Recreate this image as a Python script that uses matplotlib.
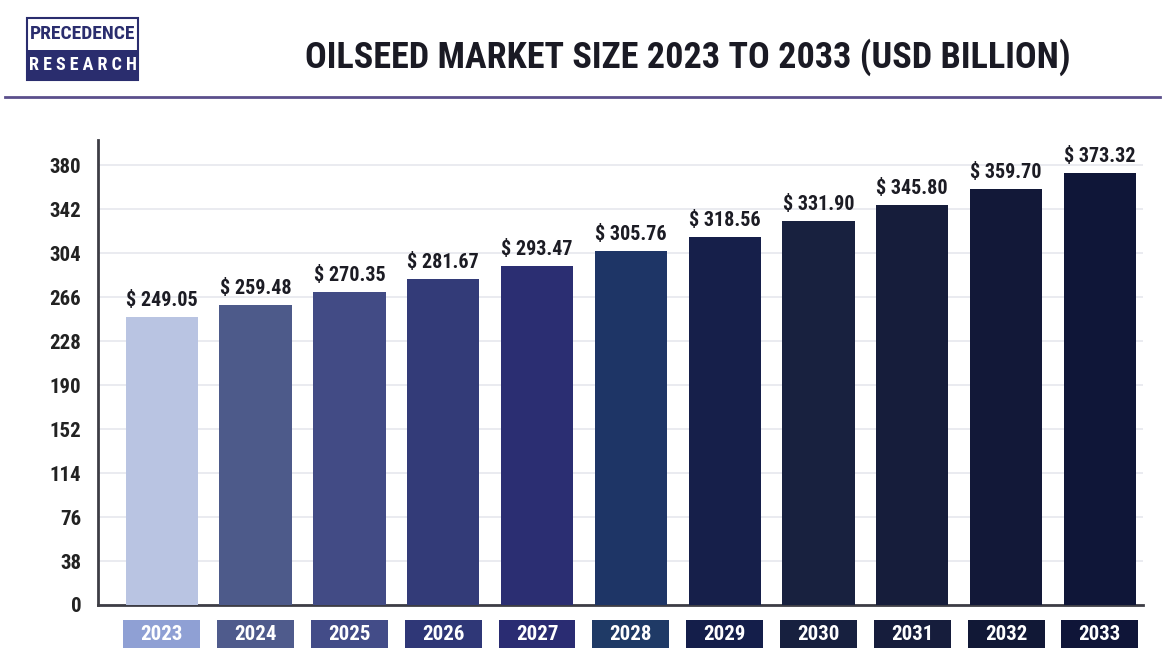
import matplotlib.pyplot as plt
from matplotlib.patches import Rectangle
from matplotlib.lines import Line2D
import matplotlib.transforms as mtransforms

plt.rcParams['font.family'] = ['Roboto Condensed', 'Roboto', 'DejaVu Sans']

years  = ['2023', '2024', '2025', '2026', '2027', '2028', '2029', '2030', '2031', '2032', '2033']
values = [249.05, 259.48, 270.35, 281.67, 293.47, 305.76, 318.56, 331.90, 345.80, 359.70, 373.32]
yticks = [0, 38, 76, 114, 152, 190, 228, 266, 304, 342, 380]

bar_colors = ['#b9c4e2', '#4d5a8a', '#424b85', '#333b78', '#2b2e72', '#1e3566',
              '#161f4a', '#18213f', '#161d3b', '#121838', '#0f1638']
box_colors = ['#8fa0d4', '#4f5b8c', '#434c88', '#2f3777', '#2a2c72', '#1f3a66',
              '#141e4a', '#17203f', '#161d3c', '#111836', '#0f1538']

W, H = 1163, 648
fig = plt.figure(figsize=(W / 100, H / 100), dpi=100)
fig.patch.set_facecolor('white')

ax = fig.add_axes([98 / W, 1 - 605 / H, (1143 - 98) / W, (605 - 140) / H])
x = list(range(len(years)))
ax.bar(x, values, width=0.77, color=bar_colors, zorder=3)
ax.set_xlim(-0.68, 10.46)
ax.set_ylim(0, 402)

for xi, v in zip(x, values):
    ax.annotate(f'$ {v:.2f}', (xi, v), xytext=(0, 5), textcoords='offset points',
                ha='center', va='bottom', fontsize=14.5, fontweight='bold', color='#1c1c24')

ax.set_yticks(yticks)
ax.set_yticklabels([str(t) for t in yticks], fontsize=15, fontweight='bold', color='#222222')
ax.set_xticks([])
ax.tick_params(axis='y', length=0, pad=12)
ax.grid(axis='y', color='#e6e7ee', linewidth=1.2, zorder=0)
ax.set_axisbelow(True)
for side in ['top', 'right']:
    ax.spines[side].set_visible(False)
for side in ['left', 'bottom']:
    ax.spines[side].set_color('#3d3d45')
    ax.spines[side].set_linewidth(2)

# year labels in coloured boxes below the axis
trans = mtransforms.blended_transform_factory(ax.transData, ax.transAxes)
for xi, yr, c in zip(x, years, box_colors):
    ax.add_patch(Rectangle((xi - 0.41, -0.10), 0.82, 0.067, transform=trans,
                           facecolor=c, edgecolor='none', clip_on=False))
    ax.text(xi, -0.064, yr, transform=trans, ha='center', va='center',
            fontsize=15, fontweight='bold', color='white')

# title and rule
fig.text(688 / W, 1 - 57 / H, 'OILSEED MARKET SIZE 2023 TO 2033 (USD BILLION)',
         ha='center', va='center', fontsize=26, fontweight='bold', color='#1a1a24')
fig.add_artist(Line2D([5 / W, 1160 / W], [1 - 97 / H, 1 - 97 / H], color='#5b4f8c',
                      linewidth=2, transform=fig.transFigure))

# logo block
fig.add_artist(Rectangle((27 / W, 1 - 80 / H), 111 / W, 62 / H, transform=fig.transFigure,
                         facecolor='white', edgecolor='#2a2d6e', linewidth=1.5))
fig.add_artist(Rectangle((27 / W, 1 - 80 / H), 111 / W, 30 / H, transform=fig.transFigure,
                         facecolor='#2a2d6e', edgecolor='none'))
fig.text(82.5 / W, 1 - 34 / H, 'PRECEDENCE', ha='center', va='center',
         fontsize=14, fontweight='bold', color='#2a2d6e')
fig.text(82.5 / W, 1 - 65 / H, 'R E S E A R C H', ha='center', va='center',
         fontsize=13, fontweight='bold', color='white')

fig.savefig('out.png', dpi=100)
